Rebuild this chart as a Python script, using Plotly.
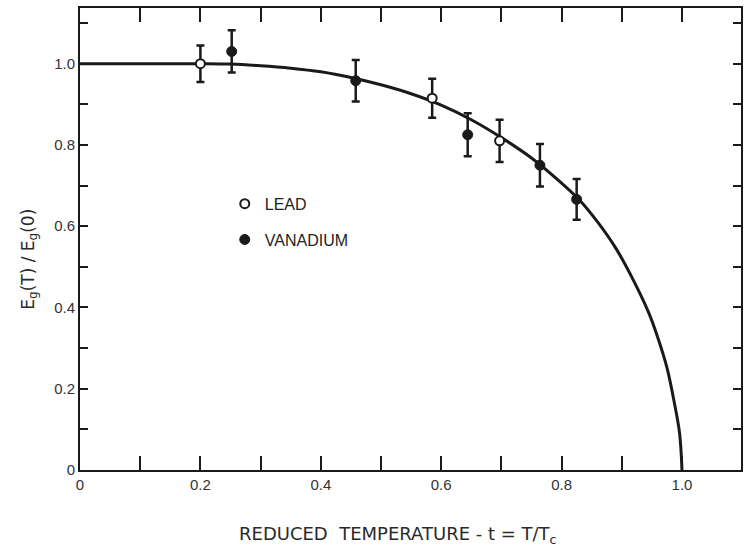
import plotly.graph_objects as go

# Reduced temperature t = T/Tc and normalised energy gap Eg(T)/Eg(0)
lead_t = [0.20, 0.585, 0.697]
lead_gap = [1.00, 0.915, 0.81]
lead_err = [0.045, 0.048, 0.052]

vanadium_t = [0.252, 0.458, 0.644, 0.764, 0.825]
vanadium_gap = [1.03, 0.958, 0.825, 0.75, 0.666]
vanadium_err = [0.052, 0.051, 0.053, 0.052, 0.05]

# Theoretical gap curve
curve_t = [0.0, 0.1, 0.2, 0.25, 0.3, 0.35, 0.4, 0.45, 0.5, 0.55, 0.6, 0.65,
           0.7, 0.75, 0.8, 0.83, 0.86, 0.89, 0.92, 0.945, 0.96, 0.975, 0.988,
           0.996, 1.0]
curve_gap = [1.0, 1.0, 1.0, 0.999, 0.995, 0.989, 0.980, 0.966, 0.948, 0.926,
             0.898, 0.862, 0.818, 0.768, 0.706, 0.664, 0.610, 0.546, 0.465,
             0.386, 0.325, 0.252, 0.160, 0.090, 0.0]

x_tick_vals = [0, 0.2, 0.4, 0.6, 0.8, 1.0]
x_tick_text = ["0", "0.2", "0.4", "0.6", "0.8", "1.0"]
y_tick_vals = [0, 0.2, 0.4, 0.6, 0.8, 1.0]
y_tick_text = ["0", "0.2", "0.4", "0.6", "0.8", "1.0"]

INK = "#1a1a1a"
FONT = "Liberation Sans"
TITLE_FONT = "DejaVu Sans"

fig = go.Figure()

fig.add_trace(go.Scatter(
    x=curve_t, y=curve_gap, mode="lines",
    line=dict(color=INK, width=3, shape="spline", smoothing=1.0),
    showlegend=False, hoverinfo="skip",
))

fig.add_trace(go.Scatter(
    x=lead_t, y=lead_gap, mode="markers", name="LEAD",
    legendgroup="lead",
    marker=dict(symbol="circle", size=9, color="white",
                line=dict(color=INK, width=2)),
    error_y=dict(type="data", array=lead_err, color=INK, thickness=2.5, width=4),
))

fig.add_trace(go.Scatter(
    x=vanadium_t, y=vanadium_gap, mode="markers", name="VANADIUM",
    legendgroup="vanadium",
    marker=dict(symbol="circle", size=10, color=INK,
                line=dict(color=INK, width=1)),
    error_y=dict(type="data", array=vanadium_err, color=INK, thickness=2.5, width=4),
))

axis_common = dict(
    showgrid=False, zeroline=False,
    showline=True, linecolor=INK, linewidth=2,
    ticks="inside", tickcolor=INK, tickwidth=1.5,
    mirror="ticks",
    tickfont=dict(family=FONT, size=15, color="#333"),
)

fig.update_xaxes(
    range=[0, 1.098],
    tickvals=x_tick_vals, ticktext=x_tick_text, ticklen=14,
    minor=dict(dtick=0.1, tick0=0, ticks="inside", ticklen=14,
               tickcolor=INK, tickwidth=1.5),
    **axis_common,
)

fig.update_yaxes(
    range=[0, 1.137],
    tickvals=y_tick_vals, ticktext=y_tick_text, ticklen=8,
    minor=dict(dtick=0.1, tick0=0, ticks="inside", ticklen=8,
               tickcolor=INK, tickwidth=1.5),
    **axis_common,
)

# Axis titles placed as annotations
fig.add_annotation(
    text="REDUCED  TEMPERATURE - t = T/T<sub>c</sub>",
    xref="paper", yref="paper", x=0.481, y=-0.141,
    xanchor="center", yanchor="middle", showarrow=False,
    font=dict(family=TITLE_FONT, size=18, color="#2a2a2a"),
)
fig.add_annotation(
    text="E<sub>g</sub>(T) / E<sub>g</sub>(0)",
    xref="paper", yref="paper", x=-0.076, y=0.457,
    xanchor="center", yanchor="middle", showarrow=False, textangle=-90,
    font=dict(family=TITLE_FONT, size=17, color="#2a2a2a"),
)

fig.update_layout(
    width=744, height=548,
    margin=dict(l=80, r=1, t=8, b=78),
    paper_bgcolor="white", plot_bgcolor="white",
    legend=dict(
        x=0.219, y=0.613, xanchor="left", yanchor="top",
        font=dict(family=FONT, size=16, color="#222"),
        tracegroupgap=12, bgcolor="rgba(0,0,0,0)",
    ),
)

fig.write_html("out.html")
